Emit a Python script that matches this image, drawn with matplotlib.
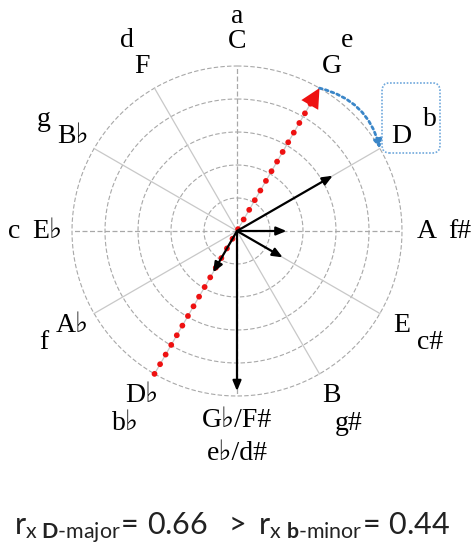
import numpy as np
import matplotlib

matplotlib.use("Agg")
import matplotlib.pyplot as plt
from matplotlib.patches import FancyBboxPatch

# circle of fifths, clockwise from the top
major_keys = ["C", "G", "D", "A", "E", "B", "G\u266d/F#", "D\u266d", "A\u266d", "E\u266d", "B\u266d", "F"]
minor_keys = ["a", "e", "b", "f#", "c#", "g#", "e\u266d/d#", "b\u266d", "f", "c", "g", "d"]
vector_len = [0, 0, 0.67, 0.30, 0.32, 0, 0.97, 0.29, 0, 0, 0, 0]
ring_levels = [0.2, 0.4, 0.6, 0.8, 1.0]
red_from, red_to = "D\u266d", "G"
blue_from, blue_to = "G", "D"
formula = (r"$\mathrm{r}_{\mathrm{x}\ \mathbf{D\text{-}}\mathrm{major}}\!=\,0.66\ \ >\ "
           r"\mathrm{r}_{\mathrm{x}\ \mathbf{b\text{-}}\mathrm{minor}}\!=\,0.44$")

plt.rcParams["mathtext.fontset"] = "custom"
plt.rcParams["mathtext.rm"] = "Lato"
plt.rcParams["mathtext.bf"] = "Lato:bold"
plt.rcParams["mathtext.it"] = "Lato:italic"

serif = ["Liberation Serif", "DejaVu Sans"]
grid_color = "#a8a8a8"
blue = "#3a86c8"

theta = np.deg2rad(np.arange(12) * 30.0)
angle_of = {k: t for k, t in zip(major_keys, theta)}

fig = plt.figure(figsize=(4.72, 5.5), dpi=100)
fig.patch.set_facecolor("white")
ax = fig.add_axes([72 / 472, 154 / 550, 330 / 472, 330 / 550], projection="polar")
ax.set_theta_zero_location("N")
ax.set_theta_direction(-1)
ax.set_ylim(0, 1)
ax.axis("off")

# rings
tt = np.linspace(0, 2 * np.pi, 361)
for lv in ring_levels:
    ax.plot(tt, np.full_like(tt, lv), color=grid_color, lw=0.8,
            linestyle=(0, (4, 2)), clip_on=False)

# spokes: vertical / horizontal dashed, the rest solid
for i, t in enumerate(theta):
    ls = (0, (4, 2)) if i % 3 == 0 else "-"
    col = grid_color if i % 3 == 0 else "#c8c8c8"
    ax.plot([t, t], [0, 1], color=col, lw=0.9, linestyle=ls, clip_on=False)

# key labels (minor ones pulled in a bit at the very top)
for t, mj, mn in zip(theta, major_keys, minor_keys):
    r_min = 1.35 - 0.05 * max(np.cos(t), 0) ** 8
    ax.text(t, 1.15, mj, ha="center", va="center", fontsize=20, family=serif)
    ax.text(t, r_min, mn, ha="center", va="center", fontsize=20, family=serif)

# red dotted arrow through the centre
t0, t1 = angle_of[red_from], angle_of[red_to]
ax.plot([t0, t0, t1], [1.0, 0.0, 0.9], color="#ee1111", lw=4.2,
        linestyle=(0, (0.01, 1.9)), dash_capstyle="round", clip_on=False, zorder=4)
ax.annotate("", xy=(t1, 1.0), xytext=(t1, 0.9), annotation_clip=False,
            arrowprops=dict(arrowstyle="-|>,head_length=1.0,head_width=0.5",
                            color="#ee1111", lw=0, mutation_scale=14,
                            shrinkA=0, shrinkB=0), zorder=5)

# key-profile vectors
for t, v in zip(theta, vector_len):
    if v <= 0:
        continue
    ax.annotate("", xy=(t, v), xytext=(0, 0), annotation_clip=False,
                arrowprops=dict(arrowstyle="-|>,head_length=0.6,head_width=0.25",
                                color="black", lw=1.6, mutation_scale=10,
                                shrinkA=0, shrinkB=0), zorder=6)

# blue dotted arc G -> D
ax.annotate("", xy=(angle_of[blue_to], 1.0), xytext=(angle_of[blue_from], 1.0),
            annotation_clip=False,
            arrowprops=dict(arrowstyle="-|>,head_length=0.5,head_width=0.25",
                            color=blue, lw=2.0, linestyle=(0, (1, 1.2)),
                            connectionstyle="arc3,rad=-0.3", mutation_scale=10,
                            shrinkA=0, shrinkB=0), zorder=5)

# dotted box around the D / b labels
box = FancyBboxPatch((382 / 472, 397 / 550), 58 / 472, 70 / 550,
                     boxstyle="round,pad=0,rounding_size=0.015",
                     transform=fig.transFigure, fill=False,
                     edgecolor="#6fa8dc", lw=1.2, linestyle=(0, (1, 1)))
fig.patches.append(box)

fig.text(0.492, 0.027, formula, ha="center", va="baseline", fontsize=22,
         color="#222222")

fig.savefig("out.png", dpi=100)
